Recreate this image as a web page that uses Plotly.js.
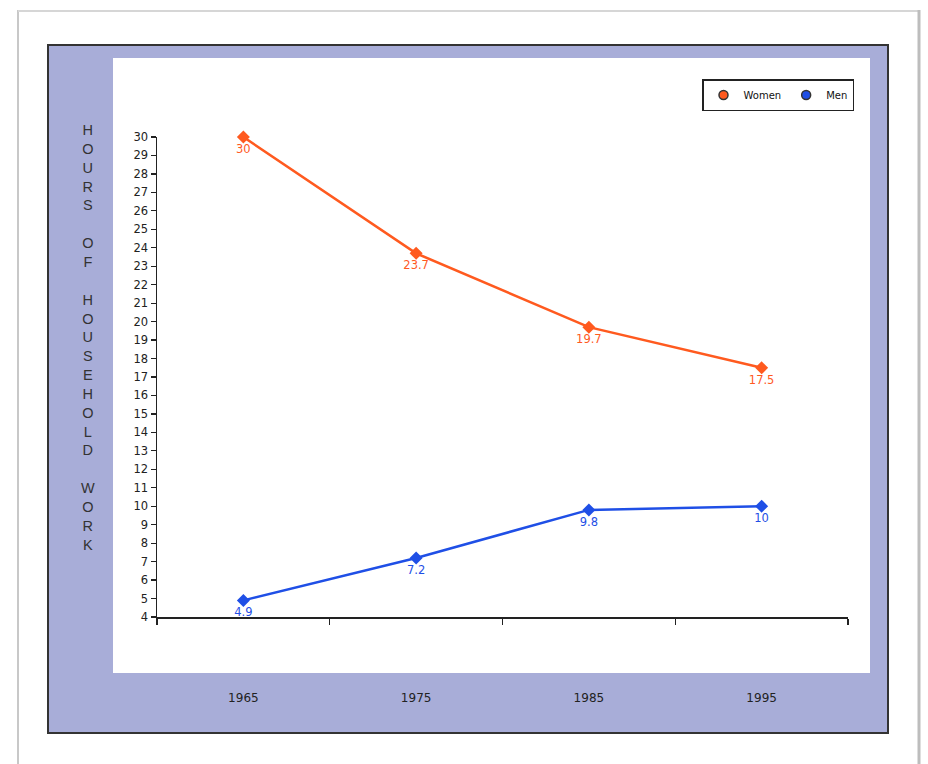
<!DOCTYPE html>
<html><head><meta charset="utf-8">
<script src="https://cdn.plot.ly/plotly-3.0.1.min.js"></script>
<style>html,body{margin:0;padding:0;background:#fff;}#c{width:928px;height:764px;}</style>
</head><body><div id="c"></div>
<script>
var years = ['1965','1975','1985','1995'];
var women = [30, 23.7, 19.7, 17.5];
var men = [4.9, 7.2, 9.8, 10];
var yTitle = 'HOURS OF HOUSEHOLD WORK';

var orange = '#FF5A1F', blue = '#1F4FE6';
function fmt(v){return String(v);}
var traces = [
 {x:years, y:women, name:'Women', type:'scatter', mode:'lines+markers+text', text:women.map(fmt),
  textposition:'bottom center', textfont:{family:'DejaVu Sans', size:11.5, color:orange},
  line:{color:orange, width:2.5}, marker:{symbol:'diamond', size:10, color:orange}, cliponaxis:false, showlegend:false},
 {x:years, y:men, name:'Men', type:'scatter', mode:'lines+markers+text', text:men.map(fmt),
  textposition:'bottom center', textfont:{family:'DejaVu Sans', size:11.5, color:blue},
  line:{color:blue, width:2.5}, marker:{symbol:'diamond', size:10, color:blue}, cliponaxis:false, showlegend:false},
 {x:[null], y:[null], name:'Women', type:'scatter', mode:'markers', marker:{symbol:'circle', size:9, color:orange, line:{color:'#333', width:1.5}}},
 {x:[null], y:[null], name:'Men', type:'scatter', mode:'markers', marker:{symbol:'circle', size:9, color:blue, line:{color:'#333', width:1.5}}}
];

var words = yTitle.split(' ');
var stacked = words.map(function(w){return w.split('').join('<br>');}).join('<br><br>');

var W=928,H=764, L=157, R=848, T=137, B=617;
function px(x){return (x-L)/(R-L);}
function py(y){return (B-y)/(B-T);}

var layout = {
 width:W, height:H, paper_bgcolor:'#fff', plot_bgcolor:'rgba(0,0,0,0)',
 margin:{l:L, r:W-R, t:T, b:H-B, pad:0},
 showlegend:true,
 legend:{orientation:'h', x:px(854), xanchor:'right', y:py(79), yanchor:'top', bgcolor:'#fff',
   bordercolor:'#222', borderwidth:1.5, font:{family:'DejaVu Sans', size:10, color:'#111'},
   itemwidth:30, tracegroupgap:0},
 xaxis:{type:'category', range:[-0.5,3.5], showgrid:false, zeroline:false, showline:true, linecolor:'#222', linewidth:1.5,
   ticks:'outside', tickson:'boundaries', ticklen:6, tickcolor:'#222', tickwidth:1.2,
   ticklabelstandoff:69, tickfont:{family:'DejaVu Sans', size:12, color:'#222'}, fixedrange:true},
 yaxis:{range:[4,30], dtick:1, tick0:4, showgrid:false, zeroline:false, showline:true, linecolor:'#222', linewidth:1.5,
   ticks:'outside', ticklen:5, tickcolor:'#222', tickwidth:1.2, tickfont:{family:'DejaVu Sans', size:11.5, color:'#222'}, fixedrange:true},
 shapes:[
  {type:'line', xref:'paper', yref:'paper', x0:px(18), x1:px(18), y0:py(10), y1:py(764), line:{color:'#c8c8c8', width:2}, layer:'below'},
  {type:'line', xref:'paper', yref:'paper', x0:px(18), x1:px(918), y0:py(11), y1:py(11), line:{color:'#d6d6d6', width:2}, layer:'below'},
  {type:'line', xref:'paper', yref:'paper', x0:px(919), x1:px(919), y0:py(10), y1:py(764), line:{color:'#bdbdbd', width:3}, layer:'below'},
  {type:'rect', xref:'paper', yref:'paper', x0:px(48), x1:px(888), y0:py(45), y1:py(733), fillcolor:'#A8ADD8', line:{color:'#333', width:2}, layer:'below'},
  {type:'rect', xref:'paper', yref:'paper', x0:px(113), x1:px(870), y0:py(58), y1:py(673), fillcolor:'#fff', line:{width:0}, layer:'below'}
 ],
 annotations:[
  {xref:'paper', yref:'paper', x:px(88), y:py(337), text:stacked, showarrow:false, xanchor:'center', yanchor:'middle',
   font:{family:'Liberation Sans', size:14.5, color:'#333'}, align:'center'}
 ]
};
Plotly.newPlot('c', traces, layout, {displayModeBar:false, staticPlot:true});
</script></body></html>
